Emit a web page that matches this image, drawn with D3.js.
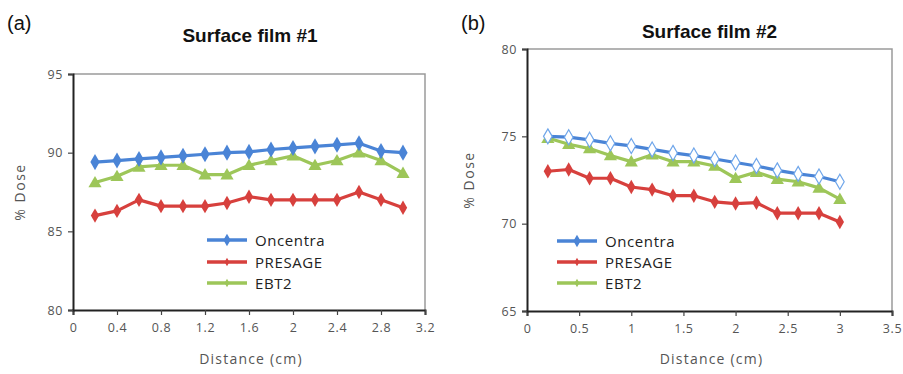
<!DOCTYPE html>
<html><head><meta charset="utf-8">
<script src="https://cdn.jsdelivr.net/npm/d3@7"></script>
<style>body{margin:0;background:#fff}svg{display:block}</style>
</head><body><svg id="c" width="903" height="374"></svg>
<script>
const distance = [0.2,0.4,0.6,0.8,1.0,1.2,1.4,1.6,1.8,2.0,2.2,2.4,2.6,2.8,3.0];
const film1Oncentra = [89.4,89.5,89.6,89.7,89.8,89.9,90.0,90.05,90.2,90.3,90.4,90.5,90.6,90.1,90.0];
const film1Presage  = [86.0,86.3,87.0,86.6,86.6,86.6,86.8,87.2,87.0,87.0,87.0,87.0,87.5,87.0,86.5];
const film1EBT2     = [88.1,88.5,89.1,89.2,89.2,88.6,88.6,89.2,89.5,89.8,89.2,89.5,90.0,89.5,88.7];
const film2Oncentra = [75.0,74.95,74.8,74.6,74.45,74.25,74.05,73.9,73.7,73.5,73.3,73.05,72.85,72.7,72.4];
const film2Presage  = [73.0,73.1,72.6,72.6,72.1,71.95,71.6,71.6,71.25,71.15,71.2,70.6,70.6,70.6,70.1];
const film2EBT2     = [74.9,74.55,74.3,73.9,73.55,73.95,73.55,73.55,73.3,72.6,72.95,72.55,72.4,72.05,71.4];
const xTicks1 = [0,0.4,0.8,1.2,1.6,2,2.4,2.8,3.2];
const yTicks1 = [80,85,90,95];
const xTicks2 = [0,0.5,1,1.5,2,2.5,3,3.5];
const yTicks2 = [65,70,75,80];
const seriesNames = ["Oncentra","PRESAGE","EBT2"];
const titles = ["Surface film #1","Surface film #2"];
const panelLabels = ["(a)","(b)"];

const colors = {Oncentra:"#4a84d6", PRESAGE:"#d7403d", EBT2:"#9dc659"};
const svg = d3.select("#c");
const font = "'Open Sans', sans-serif";
const arial = "Arial, 'Liberation Sans', sans-serif";

const panels = [
  {label:panelLabels[0], title:titles[0], left:73, right:425, top:74, bottom:310, xDom:[0,3.2], yDom:[80,95],
   xTicks:xTicks1, yTicks:yTicks1, series:[film1Oncentra,film1Presage,film1EBT2], openOnc:false,
   labelPos:[7,30], titleY:42, legX:207, legY:[240,262,283], yTitleX:25},
  {label:panelLabels[1], title:titles[1], left:527, right:892, top:49, bottom:311, xDom:[0,3.5], yDom:[65,80],
   xTicks:xTicks2, yTicks:yTicks2, series:[film2Oncentra,film2Presage,film2EBT2], openOnc:true,
   labelPos:[461,30], titleY:38, legX:557, legY:[241,262,283], yTitleX:474}
];

panels.forEach(p=>{
  const x = d3.scaleLinear().domain(p.xDom).range([p.left,p.right]);
  const y = d3.scaleLinear().domain(p.yDom).range([p.bottom,p.top]);
  const g = svg.append("g");
  g.append("text").attr("x",p.labelPos[0]).attr("y",p.labelPos[1]).attr("font-family",arial)
    .attr("font-size",20).attr("fill","#111").text(p.label);
  g.append("text").attr("x",(p.left+p.right)/2 + (p.left<100? 1:0)).attr("y",p.titleY).attr("text-anchor","middle")
    .attr("font-family",arial).attr("font-weight","bold").attr("font-size",19).attr("fill","#111").text(p.title);
  g.append("path").attr("d",`M${p.left},${p.top}H${p.right}V${p.bottom}`).attr("fill","none").attr("stroke","#9a9a9a").attr("stroke-width",1.5);
  const ax = g.append("g").attr("transform",`translate(0,${p.bottom})`)
    .call(d3.axisBottom(x).tickValues(p.xTicks).tickSize(5).tickPadding(8).tickFormat(d3.format("")));
  const ay = g.append("g").attr("transform",`translate(${p.left},0)`)
    .call(d3.axisLeft(y).tickValues(p.yTicks).tickSize(5).tickPadding(5));
  [ax,ay].forEach(a=>{
    a.select(".domain").attr("stroke","#222").attr("stroke-width",2);
    a.selectAll(".tick line").attr("stroke","#444").attr("stroke-width",1.2);
    a.selectAll(".tick text").attr("fill","#555").attr("font-size",12.5).attr("font-family",font).attr("letter-spacing",0.6);
  });
  g.append("text").attr("x",(p.left+p.right)/2 + 2).attr("y",364).attr("text-anchor","middle")
    .attr("font-family",font).attr("font-size",14).attr("fill","#555").attr("letter-spacing",1.2).text("Distance (cm)");
  g.append("text").attr("transform",`translate(${p.yTitleX},${(p.top+p.bottom)/2}) rotate(-90)`).attr("text-anchor","middle")
    .attr("font-family",font).attr("font-size",14).attr("fill","#555").attr("letter-spacing",1.5).text("% Dose");

  const line = d3.line().x((d,i)=>x(distance[i])).y(d=>y(d));
  const diamond = d3.symbol().type(d3.symbolDiamond);
  const tri = d3.symbol().type(d3.symbolTriangle);
  [2,1,0].forEach(si=>{
    const name = seriesNames[si], vals = p.series[si], c = colors[name];
    g.append("path").datum(vals).attr("d",line).attr("fill","none").attr("stroke",c).attr("stroke-width",3.2).attr("stroke-linejoin","round");
    const pts = g.append("g").selectAll("path").data(vals).join("path")
      .attr("transform",(d,i)=>`translate(${x(distance[i])},${y(d)})`);
    if(name==="EBT2") pts.attr("d",tri.size(75)).attr("fill",c).attr("transform",(d,i)=>`translate(${x(distance[i])},${y(d)+1})`);
    else if(name==="PRESAGE") pts.attr("d",diamond.size(60)).attr("fill",c);
    else if(p.openOnc) pts.attr("d",diamond.size(65)).attr("fill","#fff").attr("stroke","#6fa6ea").attr("stroke-width",1.2);
    else pts.attr("d",diamond.size(75)).attr("fill",c);
  });
  seriesNames.forEach((name,i)=>{
    const ly = p.legY[i], c = colors[name];
    g.append("line").attr("x1",p.legX).attr("x2",p.legX+40).attr("y1",ly).attr("y2",ly).attr("stroke",c).attr("stroke-width",3.5);
    g.append("path").attr("transform",`translate(${p.legX+20},${ly})`)
      .attr("d",d3.symbol().type(d3.symbolDiamond).size(name==="Oncentra"?45:20)()).attr("fill",c);
    g.append("text").attr("x",p.legX+48).attr("y",ly+5.5).attr("font-family",font).attr("font-size",15)
      .attr("fill","#222").attr("letter-spacing",0.6).text(name);
  });
});
</script></body></html>
